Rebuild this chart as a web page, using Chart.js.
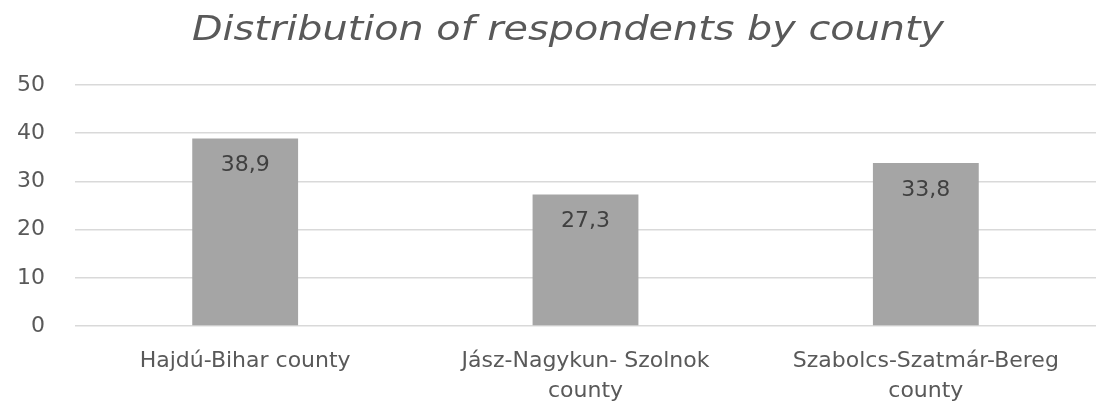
<!DOCTYPE html>
<html>
<head>
    <meta charset="utf-8">
    <title>Distribution of respondents by county</title>
    <script src="https://cdn.jsdelivr.net/npm/chart.js"></script>
    <style>
        html, body { margin: 0; padding: 0; background: #ffffff; }
        #wrap { width: 1096px; height: 403px; }
    </style>
</head>
<body>
    <div id="wrap"><canvas id="countyChart" width="1096" height="403"></canvas></div>
    <script>
        const chartTitle = "Distribution of respondents by county";
        const counties = [
            "Hajdú-Bihar county",
            ["Jász-Nagykun- Szolnok", "county"],
            ["Szabolcs-Szatmár-Bereg", "county"]
        ];
        const shares = [38.9, 27.3, 33.8];
        const yTicks = [0, 10, 20, 30, 40, 50];

        // title is drawn by hand so it can sit over the plot area (and be stretched a bit, like the Excel original)
        const titlePlugin = {
            id: "excelTitle",
            afterDraw(chart) {
                const ctx = chart.ctx;
                ctx.save();
                ctx.font = "italic 34px 'DejaVu Sans'";
                ctx.fillStyle = "#595959";
                ctx.textAlign = "center";
                ctx.textBaseline = "alphabetic";
                const w = ctx.measureText(chartTitle).width;
                const sx = 752 / w;
                ctx.translate(568, 40);
                ctx.scale(sx, 1);
                ctx.fillText(chartTitle, 0, 0);
                ctx.restore();
            }
        };

        // value labels inside the top of each bar, decimal comma
        const valueLabels = {
            id: "valueLabels",
            afterDatasetsDraw(chart) {
                const ctx = chart.ctx;
                const meta = chart.getDatasetMeta(0);
                ctx.save();
                ctx.font = "22px 'DejaVu Sans'";
                ctx.fillStyle = "#404040";
                ctx.textAlign = "center";
                ctx.textBaseline = "middle";
                meta.data.forEach((bar, i) => {
                    const txt = shares[i].toFixed(1).replace(".", ",");
                    ctx.fillText(txt, bar.x, bar.y + 27);
                });
                ctx.restore();
            }
        };

        new Chart(document.getElementById("countyChart"), {
            type: "bar",
            data: {
                labels: counties,
                datasets: [{
                    data: shares,
                    backgroundColor: "#a5a5a5",
                    borderWidth: 0,
                    categoryPercentage: 1,
                    barPercentage: 0.311
                }]
            },
            options: {
                responsive: false,
                animation: false,
                layout: { padding: { top: 85, left: 0, right: 0, bottom: 0 } },
                plugins: {
                    legend: { display: false },
                    title: { display: false },
                    tooltip: { enabled: false }
                },
                scales: {
                    x: {
                        grid: { display: false },
                        border: { display: false },
                        ticks: {
                            color: "#595959",
                            font: { family: "DejaVu Sans", size: 22, lineHeight: 1.38 },
                            padding: 12,
                            maxRotation: 0,
                            autoSkip: false
                        },
                        afterFit(axis) { axis.height = 77; }
                    },
                    y: {
                        min: 0,
                        max: 50,
                        afterBuildTicks(axis) { axis.ticks = yTicks.map(v => ({ value: v })); },
                        grid: { color: "#d9d9d9", lineWidth: 1.5, drawTicks: false },
                        border: { display: false },
                        ticks: {
                            color: "#595959",
                            font: { family: "DejaVu Sans", size: 22 },
                            padding: 30
                        },
                        afterFit(axis) { axis.width = 75; }
                    }
                }
            },
            plugins: [titlePlugin, valueLabels]
        });
    </script>
</body>
</html>
